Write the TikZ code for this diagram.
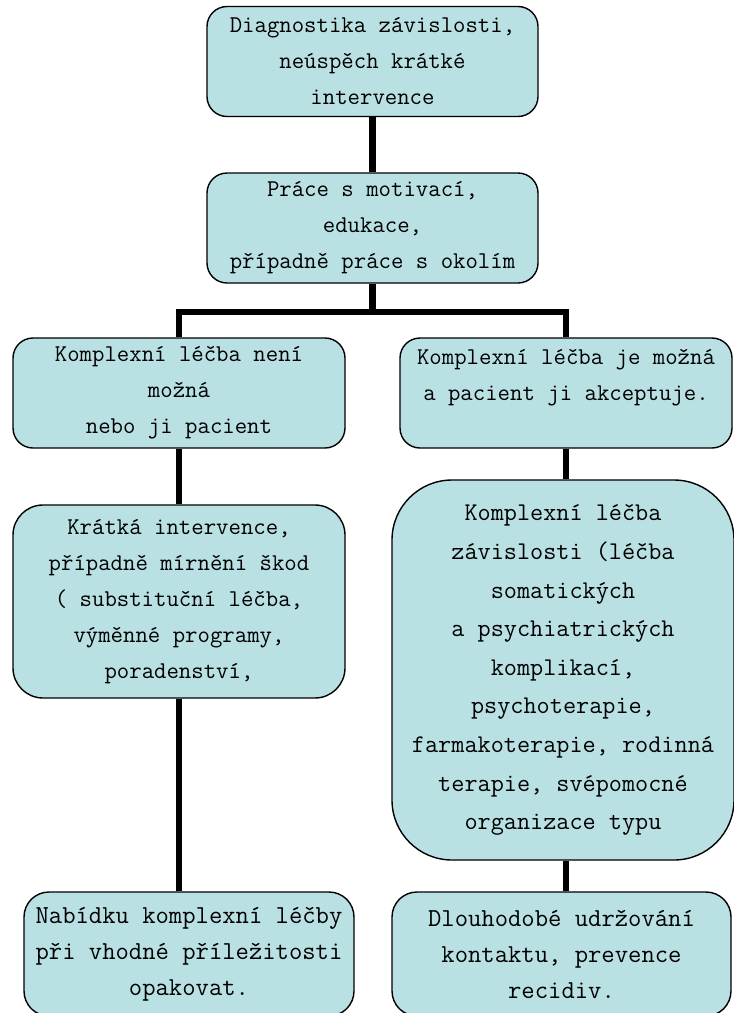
\documentclass[tikz,border=0pt]{standalone}
\usepackage{fontspec}
\definecolor{boxfill}{RGB}{185,224,227}
\tikzset{
  box/.style={draw=black, line width=1.4pt, fill=boxfill, align=center, inner sep=0pt},
  conn/.style={line width=6.5pt},
  fsmall/.style={font=\ttfamily\fontsize{24.1}{36}\selectfont},
  fbig/.style={font=\ttfamily\fontsize{25.5}{38.6}\selectfont},
  fbot/.style={font=\ttfamily\fontsize{25.9}{36}\selectfont}
}
\begin{document}
\begin{tikzpicture}[x=1pt, y=-1pt, line join=miter]
	\useasboundingbox (0,0) rectangle (734,1013);
	\clip (0,0) rectangle (734,1013);
	
	% --- Horni cast ---
	\node[box, fsmall, rounded corners=20pt, minimum width=331pt, minimum height=110pt] (diag) at (372.5,61.5) {Diagnostika závislosti,\\neúspěch krátké\\intervence};
	\node[box, fsmall, rounded corners=20pt, minimum width=331pt, minimum height=110pt] (motiv) at (372.5,228) {Práce s motivací,\\edukace,\\případně práce s okolím};
	
	% bod rozdeleni
	\coordinate (split) at (372.5,312);
	
	% --- Leva vetev ---
	\node[box, fsmall, rounded corners=20pt, minimum width=332pt, minimum height=110pt] (nemozna) at (179,393) {Komplexní léčba není\\možná\\nebo ji pacient};
	\node[box, fsmall, rounded corners=30pt, minimum width=332pt, minimum height=193pt] (kratka) at (179,601.5) {Krátká intervence,\\případně mírnění škod\\( substituční léčba,\\výměnné programy,\\poradenství,};
	\node[box, fbot, rounded corners=25pt, minimum width=330pt, minimum height=124pt] (nabidka) at (189,954) {Nabídku komplexní léčby\\při vhodné příležitosti\\opakovat.};
	
	% --- Prava vetev ---
	\node[box, fsmall, rounded corners=20pt, minimum width=332pt, minimum height=110pt] (mozna) at (566,393) {Komplexní léčba je možná\\a pacient ji akceptuje.\\\mbox{}};
	\node[box, fbig, rounded corners=60pt, minimum width=342pt, minimum height=380pt] (komplex) at (563,670) {Komplexní léčba\\závislosti (léčba\\somatických\\a psychiatrických\\komplikací,\\psychoterapie,\\farmakoterapie, rodinná\\terapie, svépomocné\\organizace typu};
	\node[box, fbot, rounded corners=25pt, minimum width=339pt, minimum height=124pt] (dlouho) at (561.5,954) {Dlouhodobé udržování\\kontaktu, prevence\\recidiv.};
	
	% --- Spojnice ---
	\draw[conn] (diag) -- (motiv);
	\draw[conn] (motiv) -- (split);
	\draw[conn] (nemozna.north) |- (split) -| (mozna.north);
	\draw[conn] (nemozna) -- (kratka);
	\draw[conn] (kratka.south) -- (kratka.south |- nabidka.north);
	\draw[conn] (mozna.south) -- (mozna.south |- komplex.north);
	\draw[conn] (mozna.south |- komplex.south) -- (mozna.south |- dlouho.north);
	
\end{tikzpicture}
\end{document}
